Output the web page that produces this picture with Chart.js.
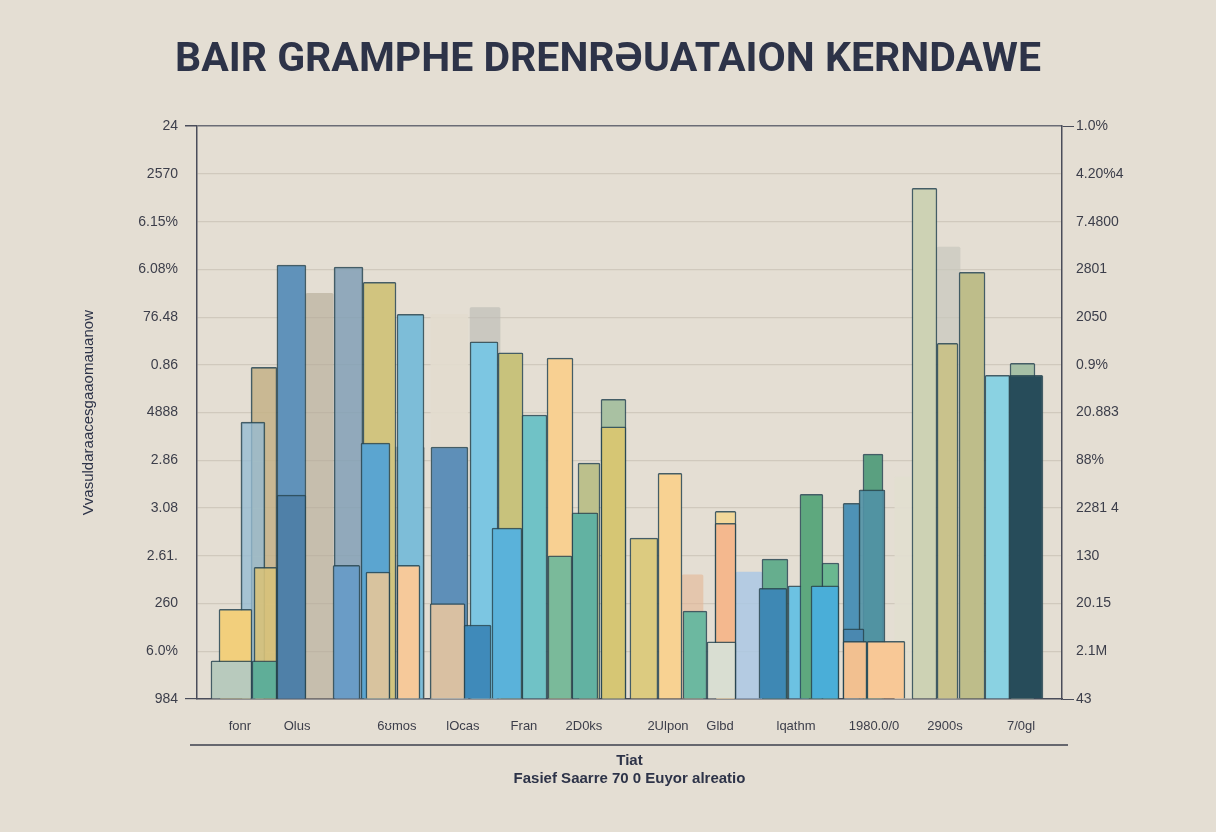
<!DOCTYPE html>
<html>
<head>
<meta charset="utf-8">
<title>Bar chart</title>
<script src="https://cdn.jsdelivr.net/npm/chart.js@4"></script>
<style>
  html, body { margin: 0; padding: 0; background: #e4ded3; }
  #wrap { width: 1216px; height: 832px; position: relative; }
</style>
</head>
<body>
<div id="wrap"><canvas id="chart"></canvas></div>
<script>
// ---------- DATA ----------
const titleText = 'BAIR GRAMPHE DRENRƏUATAION KERNDAWE';
const yTitle = 'Vvasuldaraacesgaaomauanow';
const xTitle = ['Tiat', 'Fasief Saarre 70 0 Euyor alreatio'];

const leftLabels = ['984', '6.0%', '260', '2.61.', '3.08', '2.86', '4888', '0.86', '76.48', '6.08%', '6.15%', '2570', '24'];
const rightLabels = ['43', '2.1M', '20.15', '130', '2281 4', '88%', '20.883', '0.9%', '2050', '2801', '7.4800', '4.20%4', '1.0%'];

const xLabels = ['fonr', 'Olus', '6ʊmos', 'lOcas', 'Fran', '2D0ks', '2Ulpon', 'Glbd', 'lqathm', '1980.0/0', '2900s', '7/0gl'];
const xLabelSlots = [2.98, 6.94, 13.87, 18.45, 22.68, 26.84, 32.67, 36.28, 41.55, 46.96, 51.88, 57.16];

// bars, listed back to front: slot position and value
const barSlots = [
  8.50, 14.57, 17.51, 19.98, 34.37, 38.29, 49.00, 52.13,
  4.65, 3.88,
  2.67, 2.39, 4.75, 4.68, 6.55, 6.55, 10.51, 10.37, 12.66, 12.38,
  12.55, 14.81, 14.67, 17.51, 17.38, 19.91, 19.46, 21.75, 21.50, 23.41,
  25.18, 25.18, 27.19, 26.91, 28.89, 28.89, 31.00, 32.81, 34.54, 36.66,
  36.66, 36.38, 40.09, 39.95, 41.76, 42.62, 43.94, 43.56, 46.89, 45.40,
  46.82, 45.54, 45.64, 47.79, 50.46, 52.06, 53.76, 55.52, 57.26, 57.50
];
const barValues = [
  8.5, 5.28, 8.06, 8.2, 2.6, 2.66, 4.65, 9.47,
  6.95, 5.8,
  1.88, 0.8, 2.76, 0.8, 9.09, 4.27, 9.05, 2.8, 8.73, 5.36,
  2.66, 8.06, 2.8, 5.28, 2.0, 7.48, 1.55, 7.25, 3.58, 5.95,
  7.14, 3.0, 4.94, 3.9, 6.28, 5.7, 3.37, 4.73, 1.84, 3.93,
  3.68, 1.2, 2.93, 2.32, 2.37, 4.29, 2.85, 2.37, 5.13, 4.1,
  4.38, 1.47, 1.21, 1.21, 10.7, 7.45, 8.94, 6.78, 7.03, 6.78
];

// ---------- STYLE ----------
const barColors = [
  'rgba(178,168,148,0.6)', 'rgba(120,125,125,0.45)', 'rgba(226,219,206,0.9)', 'rgba(188,188,182,0.65)',
  'rgba(228,182,148,0.6)', 'rgba(172,200,228,0.85)', 'rgba(226,222,208,0.95)', 'rgba(200,200,190,0.7)',
  'rgba(196,178,135,0.85)', 'rgba(150,188,210,0.8)',
  '#f2cf7c', '#b8cabd', 'rgba(216,194,122,0.9)', '#5fae98', '#6092ba', '#4f80a8', 'rgba(130,160,182,0.85)', '#6a9cc6', '#d1c47f', '#5ba5d0',
  '#d8c39e', '#7dbdd8', '#f6c99a', '#5e8fb8', '#d9c0a2', '#7cc6e2', '#3f8aba', '#c8c27c', '#5ab2da', '#70c2c6',
  '#f8d092', '#7aba9a', '#bcc08c', '#62b2a2', '#a9c1a2', '#d6c674', '#dccb80', '#f8d292', '#6cb8a0', '#f2d89a',
  '#f4b88e', '#d9ded2', '#66ae8e', '#3e88b4', '#6cc2e2', '#5ea87e', '#6ab890', '#4aaed8', '#5aa080', '#4e92b6',
  'rgba(80,145,165,0.9)', '#4a88b0', '#f2c090', '#f8c896', '#cdd2b4', '#c9c28c', '#bebd8a', '#8ad2e2', '#a6c0a6', '#274c5a'
];
const barWidths = [
  27, 35, 37, 30, 21, 26, 17, 23,
  26, 24,
  33, 41, 23, 25, 29, 29, 29, 27, 33, 29,
  24, 27, 23, 37, 35, 28, 27, 25, 30, 25,
  26, 24, 22, 26, 25, 25, 28, 24, 24, 21,
  21, 29, 26, 28, 22, 23, 17, 28, 20, 17,
  26, 21, 24, 38, 25, 21, 26, 25, 25, 34
];
const backCount = 8;

const textColor = '#2d3348';
const tickColor = '#3c3e4a';
const axisColor = '#4a4d5a';

const datasets = barSlots.map((slot, i) => ({
  data: [{ x: slot, y: barValues[i] }],
  backgroundColor: barColors[i],
  borderColor: i < backCount ? 'rgba(0,0,0,0)' : 'rgba(40,70,82,0.85)',
  borderWidth: i < backCount ? 0 : 1.5,
  borderSkipped: 'bottom',
  borderRadius: 1.5,
  barThickness: barWidths[i],
  grouped: false,
  order: barSlots.length - i
}));

// separator rule under the tick labels
const bottomRule = {
  id: 'bottomRule',
  afterDraw(chart) {
    const { ctx } = chart;
    const xs = chart.scales.x;
    ctx.save();
    ctx.strokeStyle = '#3c3f4c';
    ctx.lineWidth = 1.5;
    ctx.beginPath();
    ctx.moveTo(xs.left - 7, xs.top + 46);
    ctx.lineTo(xs.right + 6, xs.top + 46);
    ctx.stroke();
    ctx.restore();
  }
};

const ctx = document.getElementById('chart').getContext('2d');
new Chart(ctx, {
  type: 'bar',
  data: { datasets },
  plugins: [bottomRule],
  options: {
    responsive: true,
    maintainAspectRatio: false,
    animation: false,
    layout: { padding: 0 },
    plugins: {
      legend: { display: false },
      tooltip: { enabled: false },
      title: {
        display: true,
        text: titleText,
        color: textColor,
        font: { family: "Roboto, 'Liberation Sans', sans-serif", size: 41, weight: 'bold' },
        padding: { top: 36, bottom: 41 }
      }
    },
    scales: {
      x: {
        type: 'linear',
        min: 0,
        max: 60,
        offset: false,
        grid: { display: false, offset: false },
        border: { display: true, color: axisColor, width: 1.5 },
        afterBuildTicks: s => { s.ticks = xLabelSlots.map(v => ({ value: v })); },
        afterFit: s => { s.height = 133; },
        ticks: {
          autoSkip: false,
          maxRotation: 0,
          padding: 12,
          color: tickColor,
          font: { family: "'Liberation Sans', sans-serif", size: 13 },
          callback: (v, i) => xLabels[i]
        },
        title: {
          display: true,
          text: xTitle,
          color: textColor,
          font: { family: "'Liberation Sans', sans-serif", size: 15, weight: 'bold' },
          padding: { top: 0, bottom: 44 }
        }
      },
      y: {
        position: 'left',
        min: 0,
        max: 12,
        afterFit: s => { s.width = 197; },
        ticks: {
          stepSize: 1,
          padding: 7,
          color: tickColor,
          font: { family: "'Liberation Sans', sans-serif", size: 14 },
          callback: v => leftLabels[v]
        },
        grid: {
          color: c => (c.tick && (c.tick.value === 12) ? '#6a6c76' : '#d0c9bd'),
          tickColor: c => (c.tick && (c.tick.value === 12 || c.tick.value === 0) ? axisColor : 'rgba(0,0,0,0)'),
          tickLength: 12,
          lineWidth: c => (c.tick && c.tick.value === 12 ? 1.5 : 1.2)
        },
        border: { display: true, color: axisColor, width: 1.5 },
        title: {
          display: true,
          text: yTitle,
          color: textColor,
          font: { family: "'Liberation Sans', sans-serif", size: 15 },
          padding: { top: 80, bottom: 0 }
        }
      },
      y2: {
        position: 'right',
        min: 0,
        max: 12,
        afterFit: s => { s.width = 154; },
        ticks: {
          stepSize: 1,
          padding: 2,
          color: tickColor,
          font: { family: "'Liberation Sans', sans-serif", size: 14 },
          callback: v => rightLabels[v]
        },
        grid: {
          drawOnChartArea: false,
          tickColor: c => (c.tick && (c.tick.value === 12 || c.tick.value === 0) ? axisColor : 'rgba(0,0,0,0)'),
          tickLength: 12
        },
        border: { display: true, color: axisColor, width: 1.5 }
      }
    }
  }
});
</script>
</body>
</html>
